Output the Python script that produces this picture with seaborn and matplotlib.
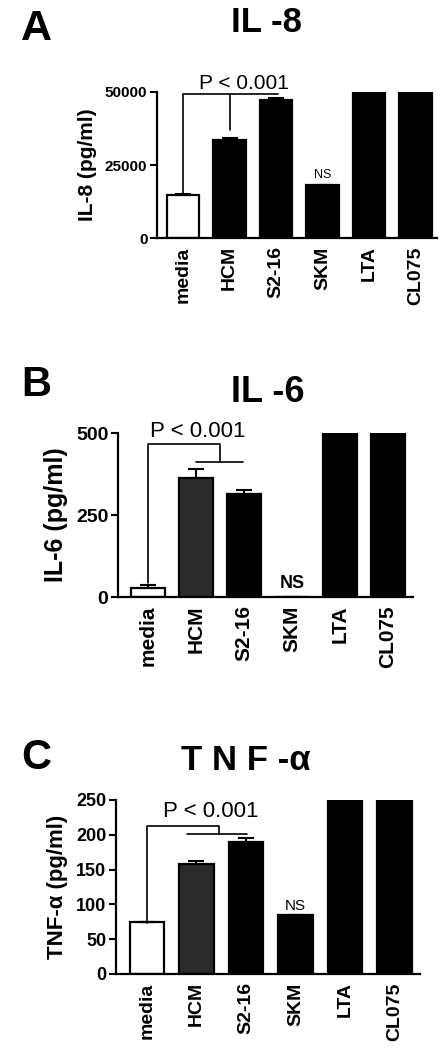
import matplotlib
matplotlib.use("Agg")
import matplotlib.pyplot as plt
import seaborn as sns
import pandas as pd

sns.set_style("ticks")
plt.rcParams["font.family"] = ["Liberation Sans", "DejaVu Sans"]
plt.rcParams["text.color"] = "black"
plt.rcParams["axes.labelcolor"] = "black"
plt.rcParams["xtick.color"] = "black"
plt.rcParams["ytick.color"] = "black"
plt.rcParams["axes.edgecolor"] = "black"

# ---------- data ----------
groups = ["media", "HCM", "S2-16", "SKM", "LTA", "CL075"]

il8_vals = [14800, 33500, 47300, 18200, 50000, 50000]
il8_err = [300, 700, 600, 0, 0, 0]

il6_vals = [27, 362, 314, 0, 500, 500]
il6_err = [10, 28, 12, 0, 0, 0]

tnf_vals = [74, 158, 190, 85, 250, 250]
tnf_err = [0, 5, 5, 0, 0, 0]

colors_a = ["white", "black", "black", "black", "black", "black"]
colors_bc = ["white", "#2b2b2b", "black", "black", "black", "black"]


def bar_panel(fig, rect, vals, err, colors, ymax, yticks, xlim, ylabel, ylsize, ytsize, xtsize):
    ax = fig.add_axes(rect)
    df = pd.DataFrame({"group": groups, "value": vals})
    sns.barplot(data=df, x="group", y="value", hue="group",
                palette=dict(zip(groups, colors)), legend=False,
                saturation=1, width=0.7, edgecolor="black", linewidth=1.6,
                errorbar=None, ax=ax)
    ax.errorbar(range(len(vals)), vals, yerr=[[0] * len(err), err],
                fmt="none", ecolor="black", elinewidth=1.5, capsize=6,
                capthick=1.5)
    ax.set_ylim(0, ymax)
    ax.set_xlim(*xlim)
    ax.set_yticks(yticks)
    ax.set_yticklabels([str(t) for t in yticks], fontweight="bold", fontsize=ytsize)
    ax.set_xticks(range(len(groups)))
    ax.set_xticklabels(groups, rotation=90, fontweight="bold", fontsize=xtsize)
    ax.tick_params(axis="x", length=0, pad=6)
    ax.tick_params(axis="y", length=5, width=1.5, direction="out", pad=2)
    ax.set_xlabel("")
    ax.set_ylabel(ylabel, fontweight="bold", fontsize=ylsize, labelpad=6)
    for s in ["top", "right"]:
        ax.spines[s].set_visible(False)
    for s in ["left", "bottom"]:
        ax.spines[s].set_linewidth(1.6)
    return ax


def bracket(ax, pts):
    xs, ys = zip(*pts)
    ax.plot(xs, ys, color="black", linewidth=1.2, clip_on=False)


fig = plt.figure(figsize=(4.44, 10.5), dpi=100)

# ---------- Panel A: IL-8 ----------
ax_a = bar_panel(fig, [0.354, 0.7733, 0.630, 0.1391], il8_vals, il8_err, colors_a,
                 50000, [0, 25000, 50000], (-0.56, 5.46), "IL-8 (pg/ml)", 15, 11, 14)
bracket(ax_a, [(0, 15200), (0, 49300), (2.05, 49300)])
bracket(ax_a, [(1, 49300), (1, 37000)])
ax_a.text(1.31, 49700, "P < 0.001", ha="center", va="bottom", fontsize=15, clip_on=False)
ax_a.text(3, 19500, "NS", ha="center", va="bottom", fontsize=9)
fig.text(0.081, 1 - 29 / 1050, "A", fontsize=31, fontweight="bold", ha="center", va="center")
fig.text(0.60, 1 - 22 / 1050, "IL -8", fontsize=25, fontweight="bold", ha="center", va="center")

# ---------- Panel B: IL-6 ----------
ax_b = bar_panel(fig, [0.266, 0.4314, 0.664, 0.1562], il6_vals, il6_err, colors_bc,
                 500, [0, 250, 500], (-0.62, 5.52), "IL-6 (pg/ml)", 18, 14, 15)
bracket(ax_b, [(0, 42), (0, 466), (1.5, 466), (1.5, 413)])
bracket(ax_b, [(1.0, 413), (1.98, 413)])
ax_b.text(1.03, 472, "P < 0.001", ha="center", va="bottom", fontsize=16, clip_on=False)
ax_b.text(3, 14, "NS", ha="center", va="bottom", fontsize=13, fontweight="bold")
fig.text(0.081, 1 - 385 / 1050, "B", fontsize=30, fontweight="bold", ha="center", va="center")
fig.text(0.604, 1 - 393 / 1050, "IL -6", fontsize=26, fontweight="bold", ha="center", va="center")

# ---------- Panel C: TNF-alpha ----------
ax_c = bar_panel(fig, [0.261, 0.0724, 0.685, 0.1657], tnf_vals, tnf_err, colors_bc,
                 250, [0, 50, 100, 150, 200, 250], (-0.63, 5.52), "TNF-α (pg/ml)", 16, 13, 14)
bracket(ax_c, [(0, 73), (0, 212.6), (1.45, 212.6), (1.45, 201)])
bracket(ax_c, [(0.81, 201), (2.02, 201)])
ax_c.text(1.28, 218, "P < 0.001", ha="center", va="bottom", fontsize=16, clip_on=False)
ax_c.text(3, 88, "NS", ha="center", va="bottom", fontsize=11)
fig.text(0.081, 1 - 758 / 1050, "C", fontsize=30, fontweight="bold", ha="center", va="center")
fig.text(0.554, 1 - 760 / 1050, "T N F -α", fontsize=25, fontweight="bold", ha="center", va="center")

fig.savefig("out.png", dpi=100)
